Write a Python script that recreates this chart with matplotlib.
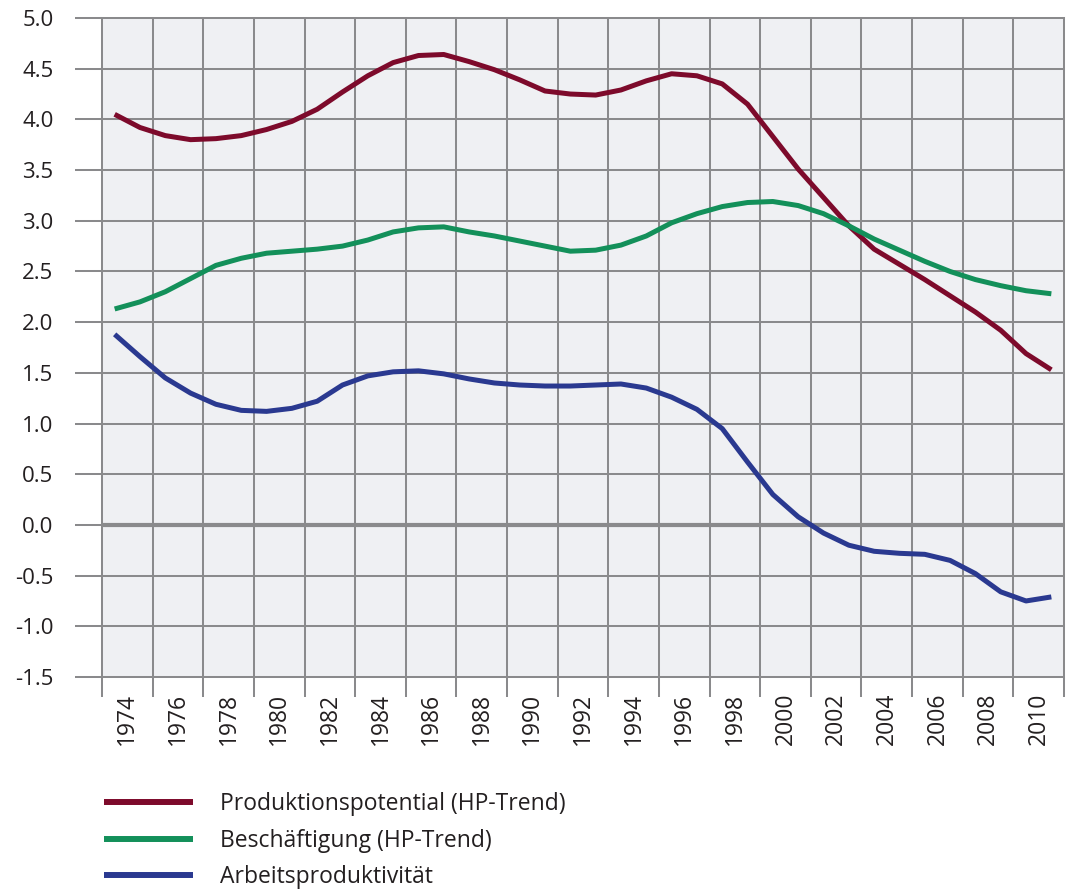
import matplotlib
matplotlib.use("Agg")
import matplotlib.pyplot as plt
from matplotlib.lines import Line2D
import numpy as np

plt.rcParams['font.family'] = ['Open Sans', 'DejaVu Sans']

years = list(range(1974, 2012))

produktionspotential = [4.05, 3.92, 3.84, 3.80, 3.81, 3.84, 3.90, 3.98, 4.10, 4.27,
                        4.43, 4.56, 4.63, 4.64, 4.57, 4.49, 4.39, 4.28, 4.25, 4.24,
                        4.29, 4.38, 4.45, 4.43, 4.35, 4.15, 3.83, 3.51, 3.23, 2.95,
                        2.72, 2.57, 2.42, 2.26, 2.10, 1.92, 1.69, 1.53]

beschaeftigung = [2.13, 2.20, 2.30, 2.43, 2.56, 2.63, 2.68, 2.70, 2.72, 2.75,
                  2.81, 2.89, 2.93, 2.94, 2.89, 2.85, 2.80, 2.75, 2.70, 2.71,
                  2.76, 2.85, 2.98, 3.07, 3.14, 3.18, 3.19, 3.15, 3.07, 2.95,
                  2.82, 2.71, 2.60, 2.50, 2.42, 2.36, 2.31, 2.28]

arbeitsproduktivitaet = [1.88, 1.66, 1.45, 1.30, 1.19, 1.13, 1.12, 1.15, 1.22, 1.38,
                         1.47, 1.51, 1.52, 1.49, 1.44, 1.40, 1.38, 1.37, 1.37, 1.38,
                         1.39, 1.35, 1.26, 1.14, 0.95, 0.62, 0.30, 0.08, -0.08, -0.20,
                         -0.26, -0.28, -0.29, -0.35, -0.48, -0.66, -0.75, -0.71]

series_names = ["Produktionspotential (HP-Trend)", "Beschäftigung (HP-Trend)",
                "Arbeitsproduktivität"]
series_colors = ["#7d0a2b", "#13905a", "#2a3990"]

y_ticks = [-1.5, -1.0, -0.5, 0.0, 0.5, 1.0, 1.5, 2.0, 2.5, 3.0, 3.5, 4.0, 4.5, 5.0]
x_labels = [str(y) for y in range(1974, 2011, 2)]

W, H = 1066, 889
fig = plt.figure(figsize=(W / 100, H / 100), dpi=100)
ax = fig.add_axes([102 / W, (H - 677) / H, (1064 - 102) / W, (677 - 18) / H])
ax.set_facecolor("#eff0f3")

grid_c = "#8a8a8c"
text_c = "#231f20"
for s in ax.spines.values():
    s.set_visible(False)

ax.set_xlim(1973.5, 2011.5)
ax.set_ylim(-1.5, 5.0)

major_x = [1973.5 + 2 * i for i in range(20)]
minor_x = [int(l) + 0.5 for l in x_labels]
ax.set_xticks(major_x)
ax.set_xticklabels([])
ax.set_xticks(minor_x, minor=True)
ax.set_xticklabels(x_labels, minor=True, rotation=90, fontsize=16.5, color=text_c)
ax.tick_params(axis='x', which='major', length=14.4, width=1.45, color=grid_c, direction='out')
ax.tick_params(axis='x', which='minor', length=0, pad=11.5)

ax.set_yticks(y_ticks)
ax.set_yticklabels([f"{v:.1f}" for v in y_ticks], fontsize=16, color=text_c)
ax.tick_params(axis='y', which='major', length=19.4, width=1.45, color=grid_c,
               direction='out', pad=15.5)

ax.grid(True, which='major', color=grid_c, linewidth=1.45)
for gl in ax.get_xgridlines() + ax.get_ygridlines():
    gl.set_clip_on(False)
ax.set_axisbelow(True)
ax.axhline(0, color=grid_c, linewidth=3.0, zorder=1.5)

for vals, name, col in zip([produktionspotential, beschaeftigung, arbeitsproduktivitaet],
                           series_names, series_colors):
    ax.plot(years, vals, color=col, linewidth=3.6, solid_joinstyle='round',
            solid_capstyle='butt', zorder=3)

handles = [Line2D([0], [0], color=c, linewidth=4.3, solid_capstyle='butt') for c in series_colors]
fig.legend(handles, series_names, loc='upper left',
           bbox_to_anchor=(104 / W, 1 - 792 / H), frameon=False,
           fontsize=16.5, handlelength=3.89, handletextpad=1.18,
           labelspacing=0.55, borderpad=0, borderaxespad=0, labelcolor=text_c)

fig.savefig("out.png", dpi=100)
